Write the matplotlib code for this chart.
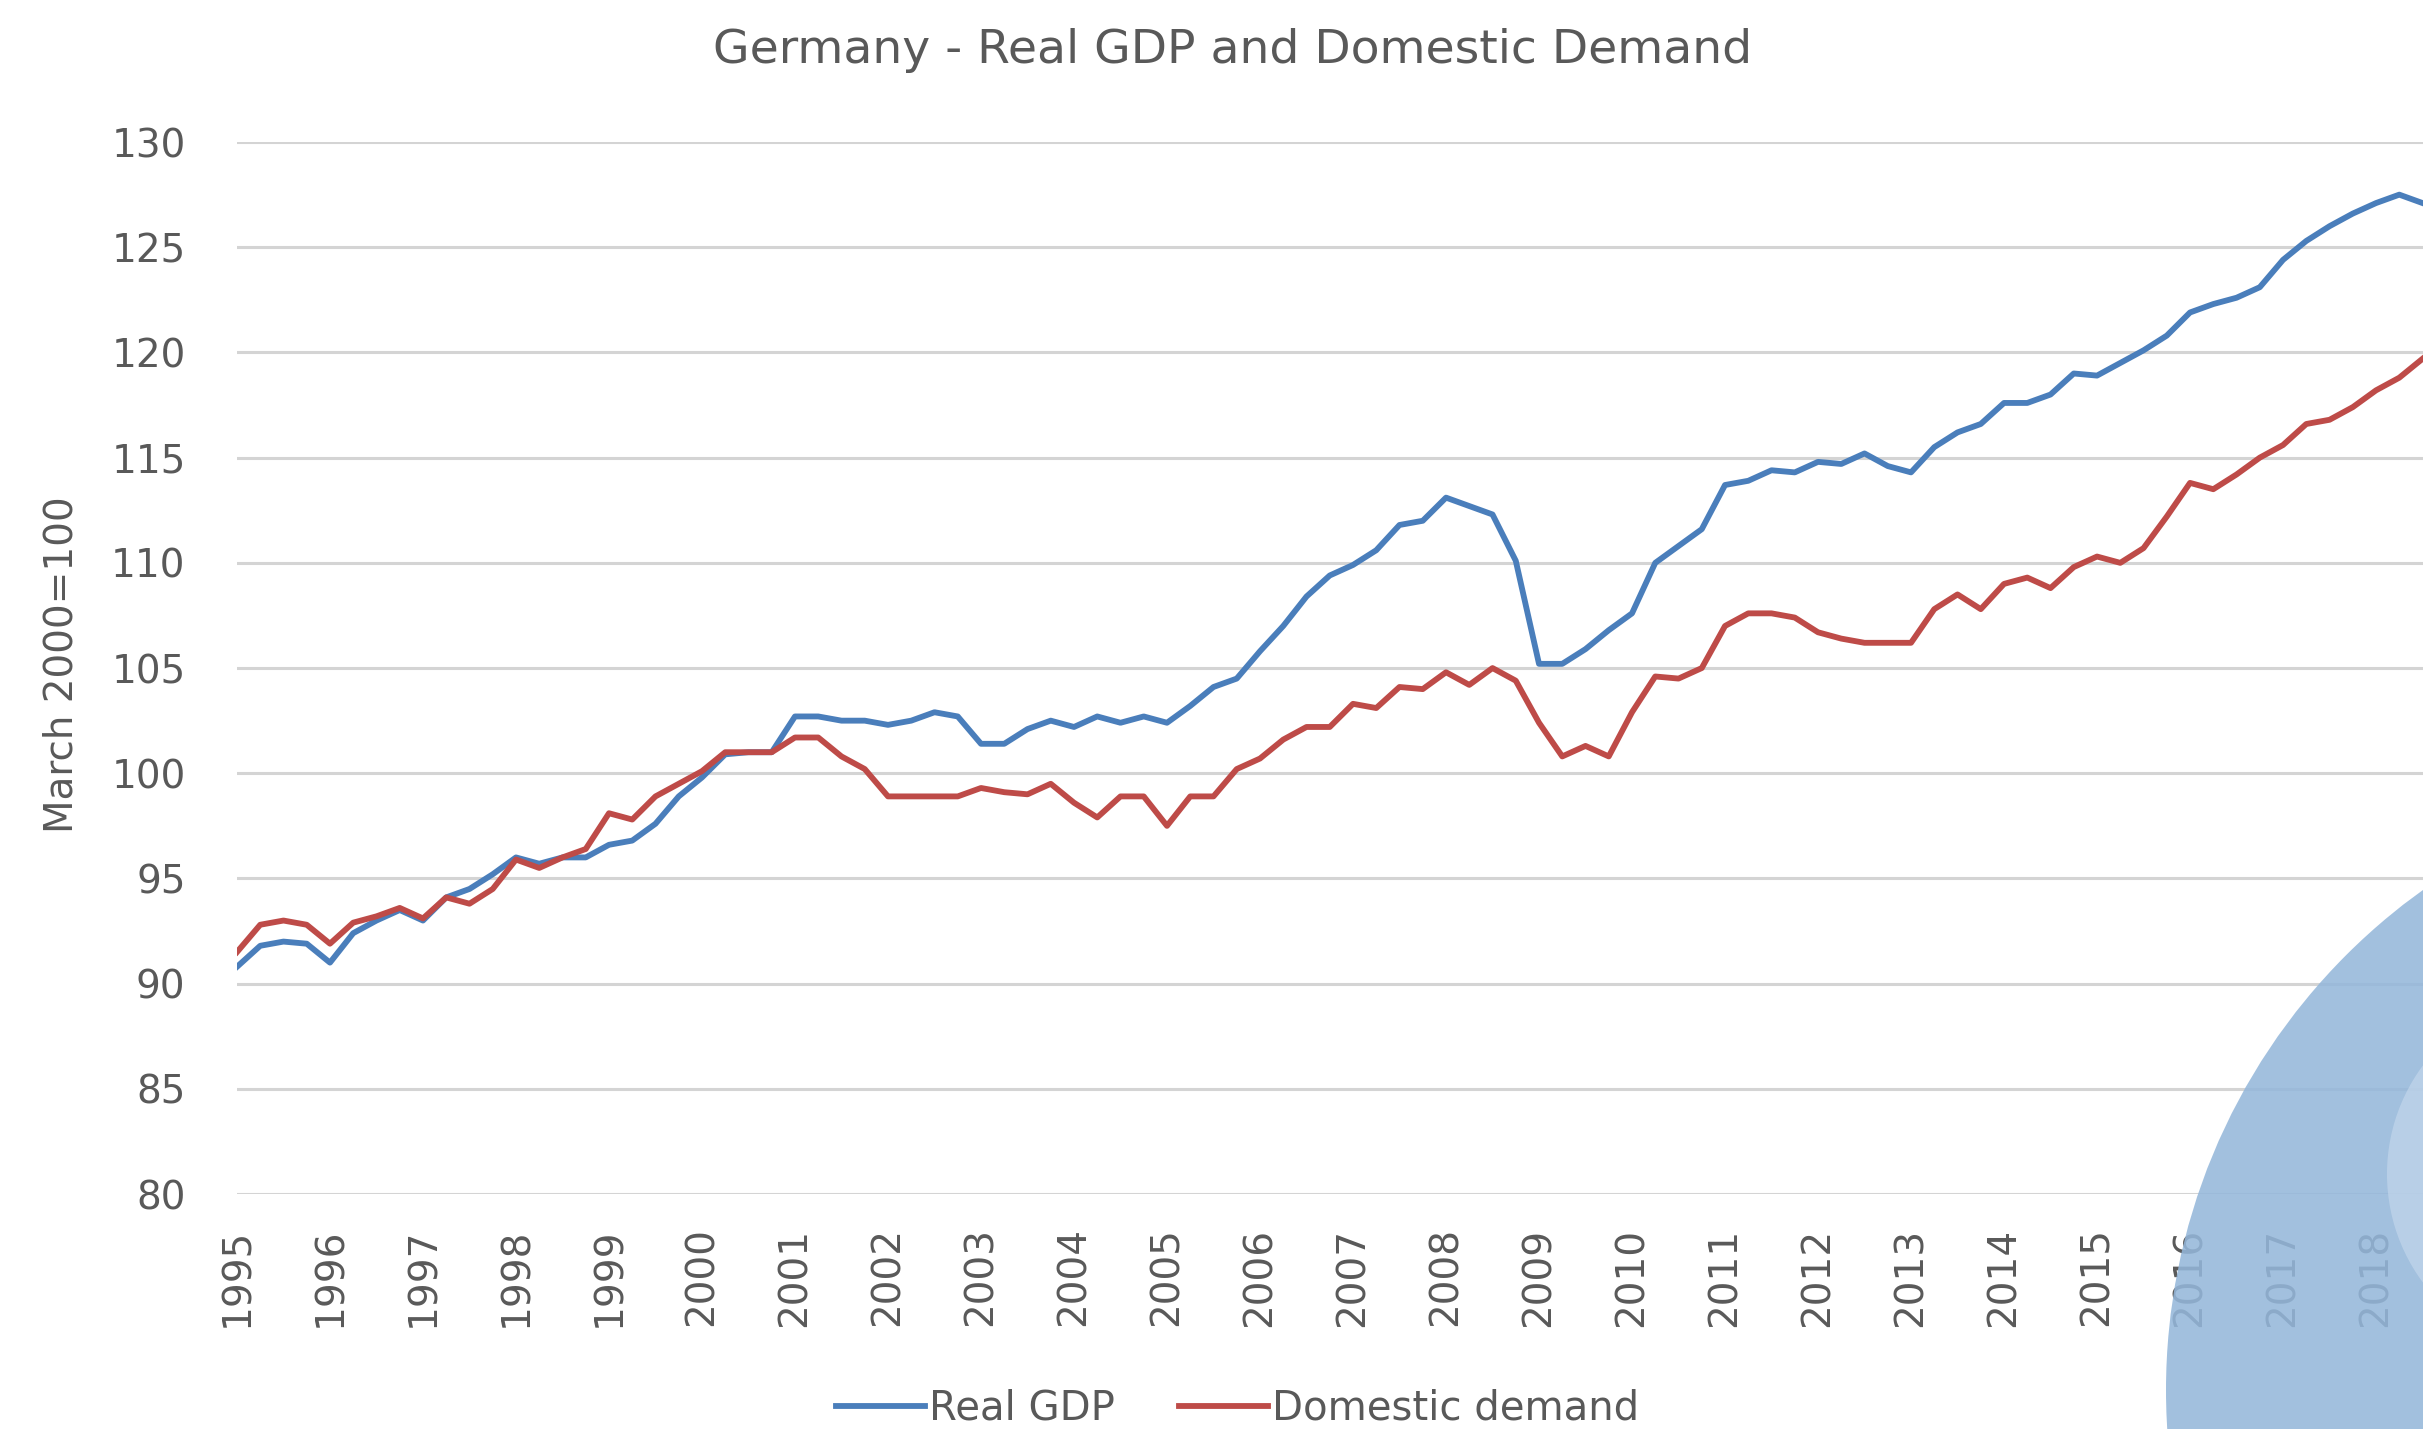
import numpy as np
import matplotlib
matplotlib.use("Agg")
import matplotlib.pyplot as plt
from matplotlib.patches import Circle

# quarterly index, March 2000 = 100, 1995Q1 .. 2018Q3
real_gdp = [
    90.8, 91.8, 92.0, 91.9,
    91.0, 92.4, 93.0, 93.5,
    93.0, 94.1, 94.5, 95.2,
    96.0, 95.7, 96.0, 96.0,
    96.6, 96.8, 97.6, 98.9,
    99.8, 100.9, 101.0, 101.0,
    102.7, 102.7, 102.5, 102.5,
    102.3, 102.5, 102.9, 102.7,
    101.4, 101.4, 102.1, 102.5,
    102.2, 102.7, 102.4, 102.7,
    102.4, 103.2, 104.1, 104.5,
    105.8, 107.0, 108.4, 109.4,
    109.9, 110.6, 111.8, 112.0,
    113.1, 112.7, 112.3, 110.1,
    105.2, 105.2, 105.9, 106.8,
    107.6, 110.0, 110.8, 111.6,
    113.7, 113.9, 114.4, 114.3,
    114.8, 114.7, 115.2, 114.6,
    114.3, 115.5, 116.2, 116.6,
    117.6, 117.6, 118.0, 119.0,
    118.9, 119.5, 120.1, 120.8,
    121.9, 122.3, 122.6, 123.1,
    124.4, 125.3, 126.0, 126.6,
    127.1, 127.5, 127.1,
]
domestic_demand = [
    91.5, 92.8, 93.0, 92.8,
    91.9, 92.9, 93.2, 93.6,
    93.1, 94.1, 93.8, 94.5,
    95.9, 95.5, 96.0, 96.4,
    98.1, 97.8, 98.9, 99.5,
    100.1, 101.0, 101.0, 101.0,
    101.7, 101.7, 100.8, 100.2,
    98.9, 98.9, 98.9, 98.9,
    99.3, 99.1, 99.0, 99.5,
    98.6, 97.9, 98.9, 98.9,
    97.5, 98.9, 98.9, 100.2,
    100.7, 101.6, 102.2, 102.2,
    103.3, 103.1, 104.1, 104.0,
    104.8, 104.2, 105.0, 104.4,
    102.4, 100.8, 101.3, 100.8,
    102.9, 104.6, 104.5, 105.0,
    107.0, 107.6, 107.6, 107.4,
    106.7, 106.4, 106.2, 106.2,
    106.2, 107.8, 108.5, 107.8,
    109.0, 109.3, 108.8, 109.8,
    110.3, 110.0, 110.7, 112.2,
    113.8, 113.5, 114.2, 115.0,
    115.6, 116.6, 116.8, 117.4,
    118.2, 118.8, 119.7,
]
years = list(range(1995, 2019))
y_ticks = list(range(80, 131, 5))

plt.rcParams['font.family'] = ['DejaVu Sans']
txt = '#595959'

x = 1995 + np.arange(len(real_gdp)) / 4

fig = plt.figure(figsize=(24.23, 14.29), dpi=100)
ax = fig.add_axes([0.0978, 0.1644, 0.9022, 0.7362])

ax.plot(x, real_gdp, color='#4A7EBB', lw=4.2, label='Real GDP', zorder=3)
ax.plot(x, domestic_demand, color='#BE4B48', lw=4.2, label='Domestic demand', zorder=3)

ax.set_xlim(1995, 2018.505)
ax.set_ylim(80, 130)
ax.set_yticks(y_ticks)
ax.set_xticks(years)
ax.set_xticklabels([str(y) for y in years], rotation=90)
ax.grid(axis='y', color='#D4D4D4', lw=2.2)
ax.set_axisbelow(True)
for s in ax.spines.values():
    s.set_visible(False)
ax.tick_params(axis='both', length=0, labelsize=28, labelcolor=txt)
ax.tick_params(axis='y', pad=37)
ax.tick_params(axis='x', pad=24)

fig.text(0.5085, 0.965, 'Germany - Real GDP and Domestic Demand',
         ha='center', va='center', fontsize=34, color=txt)
fig.text(62 / 2423, 1 - 665 / 1429, 'March 2000=100', rotation=90,
         ha='center', va='center', fontsize=28, color=txt)

fig.legend(loc='center', bbox_to_anchor=(0.5107, 0.014), ncol=2, frameon=False,
           fontsize=29, handlelength=2.2, handletextpad=0.1, columnspacing=1.6,
           labelcolor=txt)

# blue logo circles in the bottom right corner
fig.add_artist(Circle((27.81, 0.39), 6.15, transform=fig.dpi_scale_trans,
                      color=(148/255, 183/255, 218/255), alpha=0.87, lw=0, zorder=10))
fig.add_artist(Circle((25.69, 2.55), 1.82, transform=fig.dpi_scale_trans,
                      color=(200/255, 218/255, 238/255), alpha=0.6, lw=0, zorder=11))

fig.savefig('out.png', dpi=100)
